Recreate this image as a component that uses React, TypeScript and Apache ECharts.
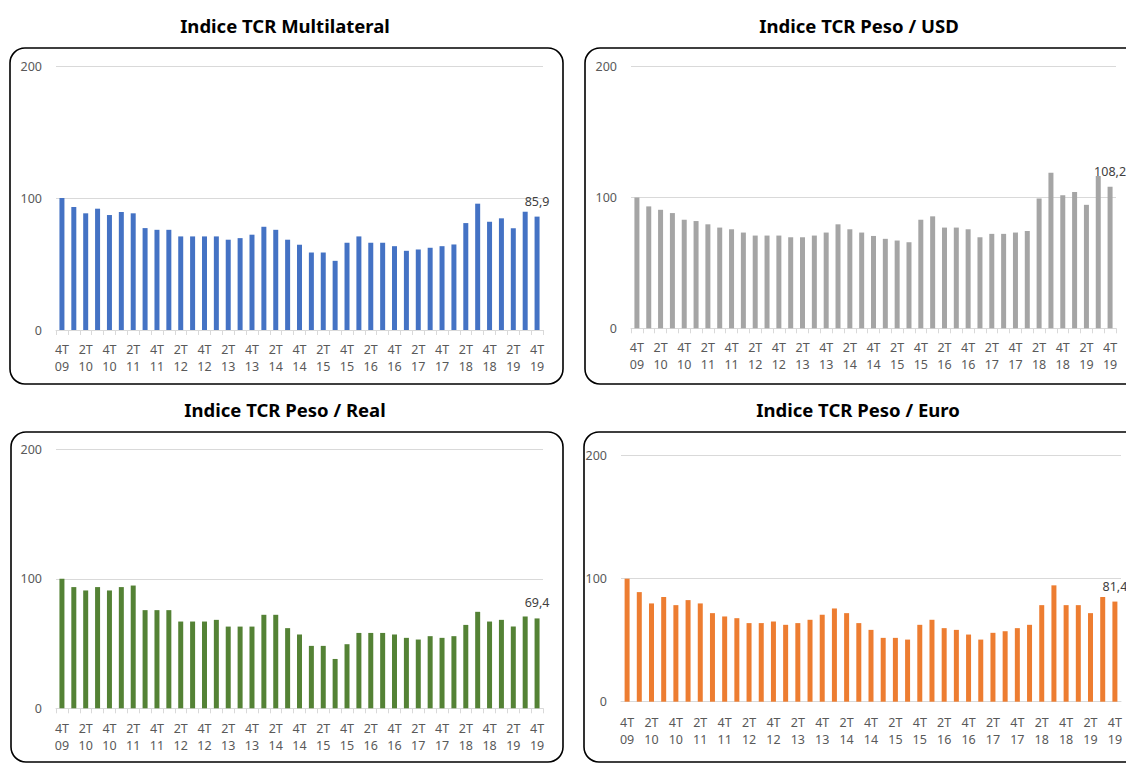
import React, { useEffect, useRef } from "react";
import * as echarts from "echarts";

const categories = [
  "4T\n09",
  "1T\n10", "2T\n10", "3T\n10", "4T\n10",
  "1T\n11", "2T\n11", "3T\n11", "4T\n11",
  "1T\n12", "2T\n12", "3T\n12", "4T\n12",
  "1T\n13", "2T\n13", "3T\n13", "4T\n13",
  "1T\n14", "2T\n14", "3T\n14", "4T\n14",
  "1T\n15", "2T\n15", "3T\n15", "4T\n15",
  "1T\n16", "2T\n16", "3T\n16", "4T\n16",
  "1T\n17", "2T\n17", "3T\n17", "4T\n17",
  "1T\n18", "2T\n18", "3T\n18", "4T\n18",
  "1T\n19", "2T\n19", "3T\n19", "4T\n19",
];

const multilateral = [
  100, 93.2, 88.4, 91.9, 87.1, 89.4, 88.4, 77.2, 75.9, 75.9,
  70.9, 70.9, 70.9, 70.9, 68.4, 69.6, 72.2, 78.2, 75.9, 68.4,
  64.6, 58.7, 58.7, 52.4, 66.1, 70.9, 66.1, 66.1, 63.5, 60.0,
  61.0, 62.3, 63.5, 64.8, 81.0, 95.7, 82.0, 84.6, 77.0, 89.6, 85.9,
];

const pesoUsd = [
  100, 93.2, 90.6, 88.1, 83.0, 82.0, 79.5, 77.0, 75.7, 73.2,
  70.9, 70.9, 70.9, 69.6, 69.6, 70.9, 73.2, 79.5, 75.7, 73.2,
  70.6, 68.4, 67.1, 65.8, 83.0, 85.6, 77.0, 77.0, 75.7, 69.6,
  72.2, 72.2, 73.2, 74.4, 99.2, 119.0, 101.8, 104.3, 94.4, 116.5, 108.2,
];

const pesoReal = [
  100, 93.6, 91.0, 93.6, 91.0, 93.6, 94.8, 75.8, 75.8, 75.8,
  67.0, 67.0, 67.0, 68.3, 63.1, 63.1, 63.1, 72.2, 72.2, 61.9,
  57.0, 48.2, 48.2, 38.1, 49.5, 58.2, 58.2, 58.2, 57.0, 54.4,
  53.1, 55.7, 54.4, 55.7, 64.4, 74.5, 67.0, 68.3, 63.1, 70.9, 69.4,
];

const pesoEuro = [
  100, 89.1, 79.9, 85.1, 78.5, 82.6, 79.9, 72.0, 69.3, 67.9,
  63.9, 63.9, 65.2, 62.5, 63.9, 66.6, 70.7, 75.8, 72.0, 63.9,
  58.4, 51.9, 51.9, 50.5, 62.5, 66.6, 59.8, 58.4, 54.6, 50.5,
  56.0, 57.3, 59.8, 62.5, 78.5, 94.6, 78.5, 78.5, 72.0, 85.1, 81.4,
];

const titles = [
  "Indice TCR Multilateral",
  "Indice TCR Peso / USD",
  "Indice TCR Peso / Real",
  "Indice TCR Peso / Euro",
];

const yTicks = { min: 0, max: 200, interval: 100 };

const FONT = "'Noto Sans', 'Liberation Sans', sans-serif";

export default function App() {
  const ref = useRef<HTMLDivElement>(null);

  useEffect(() => {
    if (!ref.current) return;
    const chart = echarts.init(ref.current, undefined, { renderer: "svg" });

    const panels = [
      { data: multilateral, color: "#4472C4", grid: { left: 56, top: 66, width: 487, height: 264 }, margin: 10.5, ticks: true,
        title: { x: 285, y: 25 }, box: { x: 10, y: 48, w: 553, h: 336 } },
      { data: pesoUsd, color: "#A5A5A5", grid: { left: 631, top: 66.7, width: 485, height: 261.6 }, margin: 10.5, ticks: true,
        title: { x: 859, y: 25 }, box: { x: 585, y: 48, w: 560, h: 336 } },
      { data: pesoReal, color: "#548235", grid: { left: 56, top: 449.3, width: 487, height: 259 }, margin: 12, ticks: true,
        title: { x: 285, y: 409 }, box: { x: 11, y: 432, w: 552, h: 330 } },
      { data: pesoEuro, color: "#ED7D31", grid: { left: 621, top: 455.7, width: 500, height: 246 }, margin: 12, ticks: false,
        title: { x: 858, y: 409 }, box: { x: 584, y: 432, w: 560, h: 330 } },
    ];

    const fmt = (v: number) => v.toFixed(1).replace(".", ",");

    const option: any = {
      animation: false,
      backgroundColor: "#ffffff",
      grid: panels.map((p) => ({ ...p.grid, containLabel: false })),
      xAxis: panels.map((p, i) => ({
        type: "category",
        gridIndex: i,
        data: categories,
        boundaryGap: true,
        axisLine: { show: true, lineStyle: { color: "#d9d9d9", width: 1 } },
        axisTick: { show: p.ticks, interval: 0, length: 5, lineStyle: { color: "#d9d9d9" } },
        axisLabel: {
          interval: 1,
          color: "#595959",
          fontFamily: FONT,
          fontSize: 12.5,
          lineHeight: 17,
          margin: p.margin,
        },
        splitLine: { show: false },
      })),
      yAxis: panels.map((p, i) => ({
        type: "value",
        gridIndex: i,
        min: yTicks.min,
        max: yTicks.max,
        interval: yTicks.interval,
        axisLine: { show: false },
        axisTick: { show: false },
        axisLabel: { color: "#595959", fontFamily: FONT, fontSize: 12.5, margin: 14 },
        splitLine: { show: true, lineStyle: { color: "#d9d9d9", width: 1 } },
      })),
      series: panels.map((p, i) => ({
        type: "bar",
        xAxisIndex: i,
        yAxisIndex: i,
        barWidth: 5,
        itemStyle: { color: p.color },
        data: p.data.map((v, j) =>
          j === p.data.length - 1
            ? {
                value: v,
                label: {
                  show: true,
                  position: "top",
                  distance: 9,
                  color: "#404040",
                  fontFamily: FONT,
                  fontSize: 12.5,
                  formatter: (prm: any) => fmt(prm.value),
                },
              }
            : v
        ),
      })),
      graphic: [
        ...panels.map((p) => ({
          type: "rect",
          shape: { x: p.box.x, y: p.box.y, width: p.box.w, height: p.box.h, r: 15 },
          style: { fill: "none", stroke: "#000000", lineWidth: 1.6 },
          silent: true,
          z: 100,
        })),
        ...panels.map((p, i) => ({
          type: "text",
          x: p.title.x,
          y: p.title.y,
          style: {
            text: titles[i],
            fill: "#000000",
            font: `bold 18.5px ${FONT}`,
            textAlign: "center",
            textVerticalAlign: "middle",
          },
          silent: true,
          z: 100,
        })),
      ],
    };

    chart.setOption(option);
    return () => chart.dispose();
  }, []);

  return (
    <div
      ref={ref}
      style={{ position: "fixed", left: 0, top: 0, width: 1126, height: 764, background: "#fff" }}
    />
  );
}
